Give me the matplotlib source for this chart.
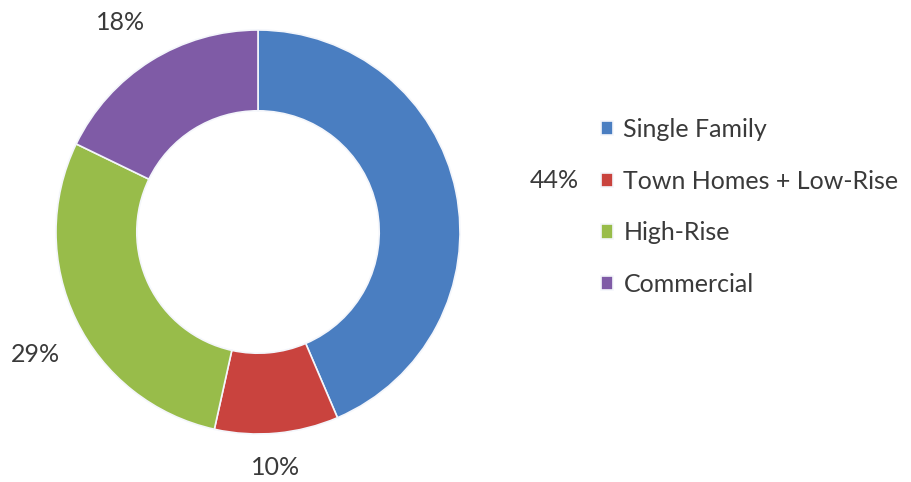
import matplotlib
matplotlib.use("Agg")
import matplotlib.pyplot as plt
import numpy as np

categories = ["Single Family", "Town Homes + Low-Rise", "High-Rise", "Commercial"]
values = [44, 10, 29, 18]
labels = ["44%", "10%", "29%", "18%"]
colors = ["#4A7EC1", "#C9433E", "#98BC4A", "#7F5BA6"]
label_dist = [1.49, 1.17, 1.26, 1.24]
label_rot = [-1.7, -1.2, 3.0, 1.2]  # small angular offsets (deg) for label placement

plt.rcParams['font.family'] = ['Lato', 'DejaVu Sans']
txt = "#3a3a3a"

fig = plt.figure(figsize=(9.12, 4.82), dpi=100)
W, H = 912, 482
cx, cy, r = 258, 232, 202
ax = fig.add_axes([(cx - r) / W, (H - cy - r) / H, 2 * r / W, 2 * r / H])

wedges, _ = ax.pie(values, colors=colors, startangle=90, counterclock=False,
                   radius=1, wedgeprops=dict(width=0.4, edgecolor='#f4f6fb', linewidth=1.2))
ax.set_xlim(-1, 1)
ax.set_ylim(-1, 1)
ax.set_aspect('equal')
ax.axis('off')

for w, lab, d, dr in zip(wedges, labels, label_dist, label_rot):
    ang = np.deg2rad((w.theta1 + w.theta2) / 2 + dr)
    ax.text(d * np.cos(ang), d * np.sin(ang), lab, ha='center', va='center',
            fontsize=18, color=txt, clip_on=False)

fig.legend(wedges, categories, loc='center left',
           bbox_to_anchor=(601 / W, 1 - 207 / H), frameon=False,
           fontsize=18, handlelength=0.5, handleheight=0.5, handletextpad=0.4,
           labelspacing=1.15, borderpad=0, borderaxespad=0, labelcolor=txt)

fig.savefig("out.png", dpi=100, facecolor="white")
